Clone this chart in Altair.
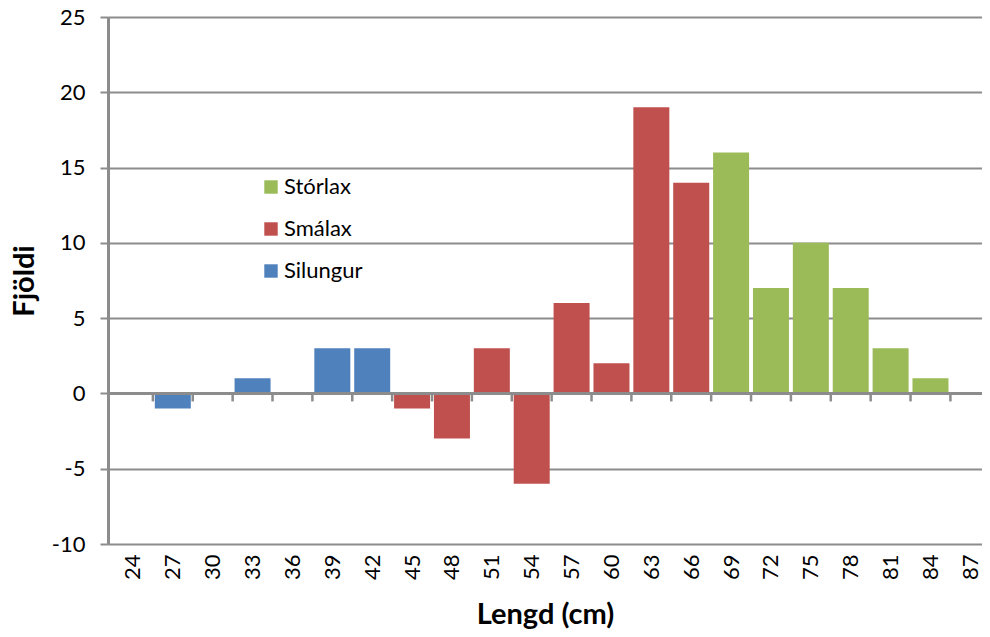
import altair as alt
import pandas as pd

# category labels on the x axis (cm)
lengd = [24, 27, 30, 33, 36, 39, 42, 45, 48, 51, 54, 57, 60, 63, 66, 69, 72, 75, 78, 81, 84, 87]

# series
silungur_lengd = [27, 33, 39, 42]
silungur = [-1, 1, 3, 3]
smalax_lengd = [45, 48, 51, 54, 57, 60, 63, 66]
smalax = [-1, -3, 3, -6, 6, 2, 19, 14]
storlax_lengd = [69, 72, 75, 78, 81, 84]
storlax = [16, 7, 10, 7, 3, 1]

flokkar = ["Stórlax", "Smálax", "Silungur"]
litir = ["#9BBB59", "#C0504D", "#4F81BD"]
y_ticks = [-10, -5, 0, 5, 10, 15, 20, 25]

rows = []
for name, ls, vs in [("Silungur", silungur_lengd, silungur),
                     ("Smálax", smalax_lengd, smalax),
                     ("Stórlax", storlax_lengd, storlax)]:
    for l, v in zip(ls, vs):
        rows.append({"Lengd": l, "Fjoldi": v, "Flokkur": name})
df = pd.DataFrame(rows)
cats = pd.DataFrame({"Lengd": lengd})

FONT = "Lato"
GRAY = "#8C8C8C"

xscale = alt.Scale(domain=[22.5, 87.5], nice=False, zero=False)
yscale = alt.Scale(domain=[-10, 25], nice=False)

xaxis = alt.Axis(values=lengd, labelExpr="toString(datum.value)", title="Lengd (cm)",
                 domain=False, ticks=False, grid=False, labelAngle=270, labelFontSize=22,
                 labelColor="black", labelPadding=10, titleFontSize=29,
                 titleFontWeight="bold", titleColor="black", titlePadding=21,
                 labelFont=FONT, titleFont=FONT)
yaxis = alt.Axis(values=y_ticks, labelExpr="toString(datum.value)", title="Fjöldi",
                 grid=True, gridColor=GRAY, gridWidth=2, gridOpacity=1, domainColor=GRAY,
                 domainWidth=3, tickColor=GRAY, tickSize=8, tickWidth=2, labelFontSize=22,
                 labelColor="black", labelPadding=15, titleFontSize=29,
                 titleFontWeight="bold", titleColor="black", titlePadding=12,
                 labelFont=FONT, titleFont=FONT)

bars = alt.Chart(df).mark_bar(size=36).encode(
    x=alt.X("Lengd:Q", scale=xscale, axis=xaxis),
    y=alt.Y("Fjoldi:Q", scale=yscale, axis=yaxis),
    color=alt.Color("Flokkur:N", scale=alt.Scale(domain=flokkar, range=litir),
                    legend=alt.Legend(title=None, orient="none", legendX=152, legendY=159,
                                      symbolType="square", symbolSize=180,
                                      symbolStrokeWidth=0, labelFontSize=22,
                                      labelFont=FONT, labelColor="black", rowPadding=20,
                                      labelOffset=2)),
)

zero = alt.Chart(cats).mark_rule(color=GRAY, strokeWidth=3).encode(
    y=alt.Y("z:Q", scale=yscale, axis=yaxis)).transform_calculate(z="0")

ticks = alt.Chart(cats).transform_calculate(b="datum.Lengd + 1.5").transform_filter(
    "datum.b < 87.5").mark_rule(color=GRAY, strokeWidth=2.5, y2Offset=8).encode(
    x=alt.X("b:Q", scale=xscale, axis=xaxis, title="Lengd (cm)"),
    y=alt.datum(0), y2=alt.datum(0))

chart = alt.layer(bars, zero, ticks).properties(
    width=874, height=527,
    autosize=alt.AutoSizeParams(type="none"),
    padding={"left": 100, "top": 9, "right": 0, "bottom": 85},
).configure_view(stroke=None)

chart.save("out.html", embed_options={"renderer": "svg", "actions": False})
